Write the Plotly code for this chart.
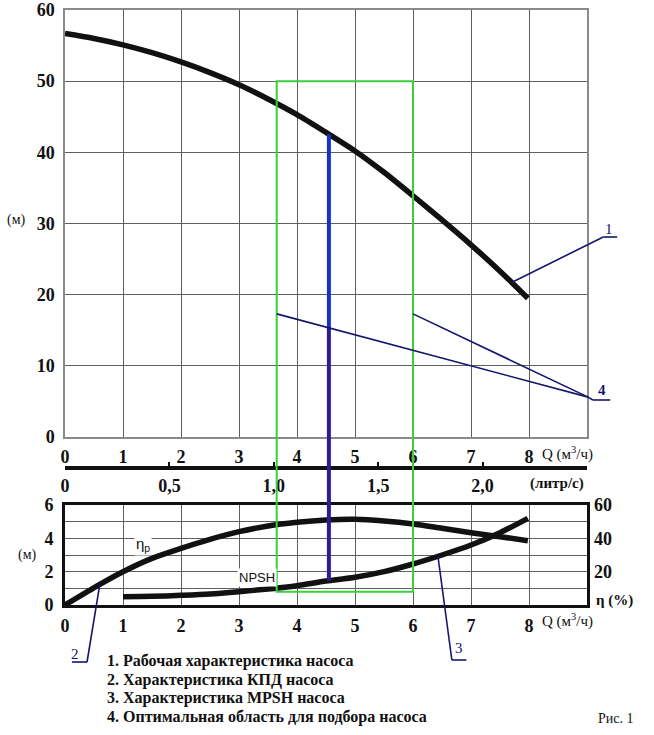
import numpy as np
import plotly.graph_objects as go

# ---------------- data ----------------
q_ticks = [0, 1, 2, 3, 4, 5, 6, 7, 8]
litre_ticks = [0, 0.5, 1.0, 1.5, 2.0]
litre_labels = ["0", "0,5", "1,0", "1,5", "2,0"]
head_ticks = [0, 10, 20, 30, 40, 50, 60]
m_ticks = [0, 2, 4, 6]
eff_ticks = [20, 40, 60]

# pump head curve H(Q), m
H_q = [0, 0.5, 1, 1.5, 2, 2.5, 3, 3.5, 4, 4.5, 5, 5.5, 6, 6.5, 7, 7.5, 7.98]
H_m = [56.7, 56.0, 55.1, 54.0, 52.7, 51.2, 49.5, 47.5, 45.3, 42.8, 40.2, 37.2, 33.9, 30.5, 27.0, 23.3, 19.5]

# efficiency curve, %
eff_q = [0, 0.6, 1, 1.5, 2, 2.5, 3, 3.5, 4, 4.5, 5, 5.5, 6, 6.5, 7, 7.5, 7.98]
eff_p = [0, 12.4, 20, 28, 34, 39.4, 44, 47.4, 49.6, 51, 51.4, 50.4, 48.6, 46, 43.4, 41, 38.6]

# NPSH curve, m
npsh_q = [1, 1.5, 2, 2.5, 3, 3.5, 4, 4.5, 5, 5.5, 6, 6.5, 7, 7.5, 7.98]
npsh_m = [0.5, 0.52, 0.58, 0.66, 0.8, 0.96, 1.16, 1.44, 1.66, 2.0, 2.46, 3.0, 3.6, 4.34, 5.2]

# operating point and optimal region
q_opt = 4.55
region_q = [3.65, 6.0]
region_head_top = 50
region_npsh_bottom = 0.8

legend_lines = [
    "1. Рабочая характеристика насоса",
    "2. Характеристика КПД насоса",
    "3. Характеристика MPSH насоса",
    "4. Оптимальная область для подбора насоса",
]

# ---------------- layout geometry ----------------
W, H = 654, 735
ML, MT = 65, 10
PW, PH = 522, 595
MR = W - ML - PW
MB = H - MT - PH
TOP_DOM = [(605 - 437) / PH, 1.0]
BOT_DOM = [0.0, (605 - 505) / PH]
Q_RANGE = [0, 9]
LITRE_POS = (605 - 468) / PH


def xp(q):
    return (q - Q_RANGE[0]) / (Q_RANGE[1] - Q_RANGE[0])


def ytop(h):
    return TOP_DOM[0] + h / 60 * (TOP_DOM[1] - TOP_DOM[0])


def ybot(m):
    return BOT_DOM[0] + m / 6 * (BOT_DOM[1] - BOT_DOM[0])


def pix(px, py):
    # page pixel -> paper coords
    return (px - ML) / PW, (MT + PH - py) / PH


SERIF = "Liberation Serif"
SANS = "Liberation Sans"
NAVY = "#15156e"
GRID = "#5f5f5f"

fig = go.Figure()

fig.add_trace(go.Scatter(x=H_q, y=H_m, mode="lines", line=dict(color="#111", width=5.5, shape="spline", smoothing=0.8),
                         xaxis="x", yaxis="y", hoverinfo="skip"))
fig.add_trace(go.Scatter(x=[0, 2.5], y=[None, None], mode="lines", xaxis="x3", yaxis="y", hoverinfo="skip"))
fig.add_trace(go.Scatter(x=npsh_q, y=npsh_m, mode="lines", line=dict(color="#111", width=5.5, shape="spline", smoothing=0.8),
                         xaxis="x2", yaxis="y2", hoverinfo="skip"))
fig.add_trace(go.Scatter(x=eff_q, y=eff_p, mode="lines", line=dict(color="#111", width=5.5, shape="spline", smoothing=0.8),
                         xaxis="x2", yaxis="y3", hoverinfo="skip"))

tickfont = dict(family=SERIF, size=18, color="#111", weight="bold")

fig.update_layout(
    width=W, height=H,
    margin=dict(l=ML, r=MR, t=MT, b=MB, autoexpand=False),
    paper_bgcolor="white", plot_bgcolor="white", showlegend=False,
    xaxis=dict(domain=[0, 1], range=Q_RANGE, anchor="y", tickmode="array", tickvals=q_ticks,
               showgrid=True, gridcolor=GRID, gridwidth=1, zeroline=False,
               showline=True, mirror=True, linecolor="#8a8a8a", linewidth=1.5,
               tickfont=tickfont, ticks="", ticklabelstandoff=3),
    yaxis=dict(domain=TOP_DOM, range=[0, 60], anchor="x", tickmode="array", tickvals=head_ticks,
               showgrid=True, gridcolor=GRID, gridwidth=1, zeroline=False,
               showline=True, mirror=True, linecolor="#8a8a8a", linewidth=1.5,
               tickfont=tickfont, ticks="", ticklabelstandoff=5),
    xaxis3=dict(overlaying="x", anchor="free", position=LITRE_POS, range=[0, 9 / 3.6],
                tickmode="array", tickvals=litre_ticks, ticktext=litre_labels, side="bottom",
                showgrid=False, zeroline=False, showline=True, linecolor="#111", linewidth=3.5,
                ticks="inside", ticklen=4, tickwidth=2, tickcolor="#111",
                tickfont=tickfont, ticklabelstandoff=1),
    xaxis2=dict(domain=[0, 1], range=Q_RANGE, anchor="y2", tickmode="array", tickvals=q_ticks,
                showgrid=True, gridcolor=GRID, gridwidth=1, zeroline=False,
                showline=True, mirror=True, linecolor="#111", linewidth=3,
                tickfont=tickfont, ticks="", ticklabelstandoff=2),
    yaxis2=dict(domain=BOT_DOM, range=[0, 6], anchor="x2", tickmode="array", tickvals=m_ticks,
                showgrid=True, gridcolor=GRID, gridwidth=1, zeroline=False,
                minor=dict(dtick=1, tick0=0, showgrid=True, gridcolor=GRID, gridwidth=1),
                showline=True, mirror=True, linecolor="#111", linewidth=3,
                tickfont=tickfont, ticks="", ticklabelstandoff=5),
    yaxis3=dict(overlaying="y2", anchor="x2", side="right", range=[0, 60], tickmode="array",
                tickvals=eff_ticks, showgrid=False, zeroline=False, showline=False,
                tickfont=tickfont, ticks="", ticklabelstandoff=6),
)

shapes = []
# optimal region rectangle (spans both charts)
shapes.append(dict(type="rect", xref="x", yref="paper", x0=region_q[0], x1=region_q[1],
                   y0=ybot(region_npsh_bottom), y1=ytop(region_head_top),
                   line=dict(color="#3ccf3c", width=2), layer="above"))
# operating point vertical line
h_opt = float(np.interp(q_opt, H_q, H_m))
n_opt = float(np.interp(q_opt, npsh_q, npsh_m))
shapes.append(dict(type="line", xref="x", yref="paper", x0=q_opt, x1=q_opt, y0=ytop(15), y1=ytop(h_opt),
                   line=dict(color="#1734c2", width=4), layer="above"))
shapes.append(dict(type="line", xref="x", yref="paper", x0=q_opt, x1=q_opt, y0=ybot(n_opt), y1=ytop(15.3),
                   line=dict(color="#2c1c92", width=4), layer="above"))


def seg(pts):
    for (x0, y0), (x1, y1) in zip(pts[:-1], pts[1:]):
        shapes.append(dict(type="line", xref="paper", yref="paper", x0=x0, y0=y0, x1=x1, y1=y1,
                           line=dict(color=NAVY, width=1.6), layer="above"))


# callout 1 (head curve)
q1 = 7.7
seg([(xp(q1), ytop(float(np.interp(q1, H_q, H_m)))), (xp(9.28), ytop(28.1)), (xp(9.52), ytop(28.1))])
# callout 4 (optimal region)
seg([(xp(region_q[0]), ytop(17.3)), (xp(9.02), ytop(5.6)), (xp(9.1), ytop(5.2)), (xp(9.4), ytop(5.2))])
seg([(xp(region_q[1]), ytop(17.3)), (xp(9.02), ytop(5.6))])
# callout 2 (efficiency)
q2 = 0.6
seg([(xp(q2), ybot(float(np.interp(q2, eff_q, eff_p)) / 10)), (xp(0.38), ybot(-3.42)), (xp(0.12), ybot(-3.42))])
# callout 3 (NPSH)
q3 = 6.43
seg([(xp(q3), ybot(float(np.interp(q3, npsh_q, npsh_m)))), (xp(6.67), ybot(-3.3)), (xp(6.92), ybot(-3.3))])

fig.update_layout(shapes=shapes)

ann = []


def text(px, py, s, size=15, family=SERIF, bold=False, xanchor="center", color="#111", bg=None):
    x, y = pix(px, py)
    d = dict(xref="paper", yref="paper", x=x, y=y, text=s, showarrow=False, xanchor=xanchor,
             yanchor="middle", font=dict(family=family, size=size, color=color,
                                         weight="bold" if bold else "normal"))
    if bg:
        d["bgcolor"] = bg
    ann.append(d)


text(16, 220, "(м)", size=14)
text(27, 555, "(м)", size=14)
text(567, 453, "Q (м<sup>3</sup>/ч)", size=15)
text(567, 620, "Q (м<sup>3</sup>/ч)", size=15)
text(557, 483, "(литр/с)", size=15, bold=True)
text(614, 600, "η (%)", size=15, bold=True)
text(143, 544, "η<sub>р</sub>", size=15, family=SANS, bg="white")
text(257, 577, "NPSH", size=13, family=SANS, bg="white")
text(609, 229, "1", size=15, color=NAVY)
text(602, 390, "4", size=15, color=NAVY, bold=True)
text(75, 654, "2", size=15, color=NAVY)
text(459, 648, "3", size=15, color=NAVY)
for i, line in enumerate(legend_lines):
    text(105, 661 + i * 18.7, line, size=16, bold=True, xanchor="left")
text(616, 718, "Рис. 1", size=14)

fig.update_layout(annotations=ann)
fig.write_html(
    "out.html",
    config={"displayModeBar": False},
    post_script="document.body.style.margin='0';document.body.style.overflow='hidden';",
)
